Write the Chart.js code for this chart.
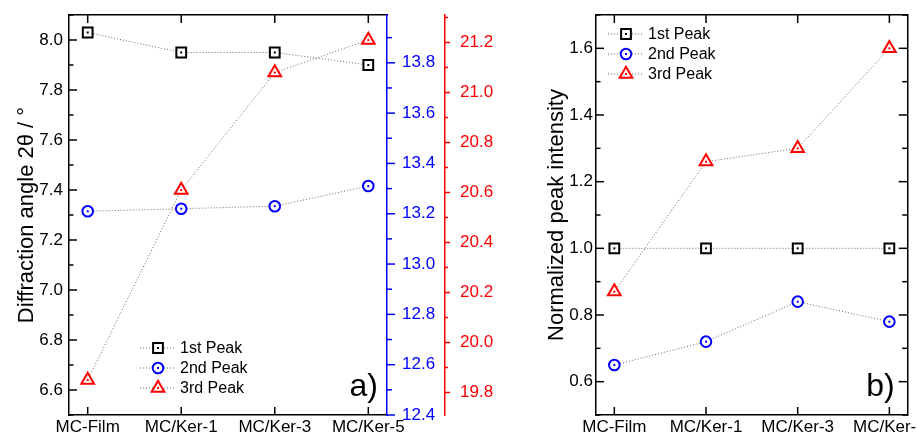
<!DOCTYPE html>
<html>
<head>
<meta charset="utf-8">
<script src="https://cdn.jsdelivr.net/npm/chart.js@4.4.1/dist/chart.umd.min.js"></script>
<style>
    body { margin: 0; background: #fff; width: 917px; height: 436px; position: relative; overflow: hidden; }
    canvas { position: absolute; top: 0; }
    #chartAngulo { left: 0; }
    #chartIntensidade { left: 500px; }
</style>
</head>
<body>
<canvas id="chartAngulo" width="500" height="436"></canvas>
<canvas id="chartIntensidade" width="417" height="436"></canvas>
<script>
// dados
const amostras = ['MC-Film', 'MC/Ker-1', 'MC/Ker-3', 'MC/Ker-5']
const posicoes = [0, 1, 2, 3]
const nomesPicos = ['1st Peak', '2nd Peak', '3rd Peak']

const angulo1 = [8.03, 7.95, 7.95, 7.90]
const angulo2 = [13.21, 13.22, 13.23, 13.31]
const angulo3 = [19.85, 20.61, 21.08, 21.21]

const intensidade1 = [1.00, 1.00, 1.00, 1.00]
const intensidade2 = [0.65, 0.72, 0.84, 0.78]
const intensidade3 = [0.87, 1.26, 1.30, 1.60]

Chart.defaults.font.family = "'Liberation Sans', Arial, sans-serif"
Chart.defaults.color = '#000'

const pontos = valores => valores.map((v, i) => ({ x: posicoes[i], y: v }))
const ehMaior = v => Math.round(v * 10) % 2 === 0

function ticksCategoria(scale) {
    scale.ticks = posicoes.map(v => ({ value: v }))
}

function ticksDecimo(scale) {
    const lista = []
    for (let i = Math.ceil(scale.min * 10 - 1e-6); i <= Math.floor(scale.max * 10 + 1e-6); i++) {
        lista.push({ value: i / 10 })
    }
    scale.ticks = lista
}

function larguraFixa(w) {
    return scale => {
        scale.width = w
        scale.paddingTop = 0
        scale.paddingBottom = 0
    }
}

function alturaFixa(h) {
    return scale => {
        scale.height = h
        scale.paddingLeft = 0
        scale.paddingRight = 0
    }
}

function serie(nome, valores, cor, estilo, raio, eixo) {
    return {
        label: nome,
        data: pontos(valores),
        yAxisID: eixo,
        borderColor: '#6a6a6a',
        borderWidth: 1,
        borderDash: [1, 2],
        pointStyle: estilo,
        pointRadius: raio,
        pointHoverRadius: raio,
        pointBorderColor: cor,
        pointBackgroundColor: '#fff',
        pointBorderWidth: 2,
        tension: 0
    }
}

// marcas de escala desenhadas a partir das escalas do grafico
const marcas = {
    id: 'marcas',
    afterDraw(chart, args, opts) {
        const ctx = chart.ctx
        Object.keys(opts).forEach(id => {
            const scale = chart.scales[id]
            const m = opts[id]
            if (!scale || !m || !m.color) return
            ctx.save()
            ctx.strokeStyle = m.color
            ctx.lineWidth = 1.5
            scale.ticks.forEach(t => {
                const horizontal = scale.isHorizontal()
                const len = horizontal || ehMaior(t.value) ? m.major : m.minor
                const p = scale.getPixelForValue(t.value)
                ctx.beginPath()
                if (horizontal) {
                    const y0 = scale.position === 'top' ? scale.bottom : scale.top
                    const dir = scale.position === 'top' ? 1 : -1
                    ctx.moveTo(p, y0)
                    ctx.lineTo(p, y0 + dir * len)
                } else {
                    const x0 = scale.position === 'left' ? scale.right : scale.left
                    const dir = (scale.position === 'left') === (m.side === 'in') ? 1 : -1
                    ctx.moveTo(x0, p)
                    ctx.lineTo(x0 + dir * len, p)
                }
                ctx.stroke()
            })
            ctx.restore()
        })
    }
}

// ponto central dentro de cada marcador
const pontoCentro = {
    id: 'pontoCentro',
    afterDatasetsDraw(chart) {
        const ctx = chart.ctx
        chart.data.datasets.forEach((ds, i) => {
            ctx.fillStyle = ds.pointBorderColor
            chart.getDatasetMeta(i).data.forEach(pt => {
                ctx.fillRect(pt.x - 1, pt.y - 1, 2, 2)
            })
        })
    }
}

// legenda dentro da area do grafico, com linha pontilhada e marcador
const legendaDentro = {
    id: 'legendaDentro',
    afterDraw(chart, args, opts) {
        const ctx = chart.ctx
        const area = chart.chartArea
        const x = area.left + opts.dx
        const y0 = opts.fromBottom ? area.bottom - opts.dy : area.top + opts.dy
        ctx.save()
        chart.data.datasets.forEach((ds, i) => {
            const y = y0 + i * 20
            ctx.strokeStyle = ds.borderColor
            ctx.lineWidth = 1
            ctx.setLineDash([1, 2])
            ctx.beginPath()
            ctx.moveTo(x - 18, y)
            ctx.lineTo(x + 17, y)
            ctx.stroke()
            ctx.setLineDash([])
            ctx.strokeStyle = ds.pointBorderColor
            ctx.fillStyle = '#fff'
            ctx.lineWidth = ds.pointBorderWidth
            Chart.helpers.drawPoint(ctx, { pointStyle: ds.pointStyle, radius: ds.pointRadius, rotation: 0, borderWidth: ds.pointBorderWidth }, x, y)
            ctx.fillStyle = ds.pointBorderColor
            ctx.fillRect(x - 1, y - 1, 2, 2)
            ctx.fillStyle = '#000'
            ctx.font = "16px 'Liberation Sans', Arial, sans-serif"
            ctx.textBaseline = 'middle'
            ctx.textAlign = 'left'
            ctx.fillText(ds.label, x + 22, y + 1)
        })
        ctx.restore()
    }
}

// rotulo do painel, a) ou b)
const rotuloPainel = {
    id: 'rotuloPainel',
    afterDraw(chart, args, opts) {
        const ctx = chart.ctx
        const area = chart.chartArea
        ctx.save()
        ctx.fillStyle = '#000'
        ctx.font = "32px 'Liberation Sans', Arial, sans-serif"
        ctx.textAlign = 'right'
        ctx.textBaseline = 'alphabetic'
        ctx.fillText(opts.text, area.right - opts.dx, area.bottom - opts.dy)
        ctx.restore()
    }
}

const fonteTick = { size: 17 }

function eixoX(posicao) {
    return {
        type: 'linear',
        position: posicao,
        min: -0.2,
        max: 3.2,
        afterBuildTicks: ticksCategoria,
        afterFit: alturaFixa(posicao === 'top' ? 15 : 21),
        grid: { display: false, drawTicks: false },
        border: { display: true, color: '#000', width: 1.5 },
        ticks: {
            display: posicao === 'bottom',
            autoSkip: false,
            maxRotation: 0,
            padding: 2,
            font: fonteTick,
            color: '#000',
            callback: v => amostras[v]
        }
    }
}

function eixoY(posicao, min, max, cor, largura, padding, peso, titulo) {
    return {
        type: 'linear',
        position: posicao,
        min: min,
        max: max,
        weight: peso,
        afterBuildTicks: ticksDecimo,
        afterFit: larguraFixa(largura),
        grid: { display: false, drawTicks: false },
        border: { display: true, color: cor, width: 1.5 },
        title: titulo || { display: false },
        ticks: {
            display: padding !== null,
            autoSkip: false,
            padding: padding || 0,
            font: fonteTick,
            color: cor,
            callback: v => ehMaior(v) ? v.toFixed(1) : ''
        }
    }
}

const chartAngulo = new Chart(document.getElementById('chartAngulo'), {
    type: 'line',
    data: {
        datasets: [
            serie(nomesPicos[0], angulo1, '#000000', 'rect', 6.9, 'y'),
            serie(nomesPicos[1], angulo2, '#0000ff', 'circle', 5.3, 'yAzul'),
            serie(nomesPicos[2], angulo3, '#ff0000', 'triangle', 7.3, 'yVermelho')
        ]
    },
    options: {
        responsive: false,
        animation: false,
        layout: { padding: 0 },
        scales: {
            x: eixoX('bottom'),
            xTopo: eixoX('top'),
            y: eixoY('left', 6.5, 8.1, '#000', 69, 6, 0, {
                display: true,
                text: 'Diffraction angle 2\u03b8 / \u00b0',
                font: { size: 22 },
                color: '#000',
                padding: { top: 14, bottom: 0 }
            }),
            yAzul: eixoY('right', 12.4, 13.99, '#0000ff', 58, 15, 1),
            yVermelho: eixoY('right', 19.71, 21.31, '#ff0000', 55, 15, 2)
        },
        plugins: {
            legend: { display: false },
            tooltip: { enabled: false },
            marcas: {
                x: { color: '#000', major: 8 },
                xTopo: { color: '#000', major: 8 },
                y: { color: '#000', side: 'in', major: 8, minor: 4.5 },
                yAzul: { color: '#0000ff', side: 'out', major: 8, minor: 5 },
                yVermelho: { color: '#ff0000', side: 'out', major: 5, minor: 3 }
            },
            legendaDentro: { dx: 89, dy: 67, fromBottom: true },
            rotuloPainel: { text: 'a)', dx: 9, dy: 19 }
        }
    },
    plugins: [marcas, pontoCentro, legendaDentro, rotuloPainel]
})

const chartIntensidade = new Chart(document.getElementById('chartIntensidade'), {
    type: 'line',
    data: {
        datasets: [
            serie(nomesPicos[0], intensidade1, '#000000', 'rect', 6.9, 'y'),
            serie(nomesPicos[1], intensidade2, '#0000ff', 'circle', 5.3, 'y'),
            serie(nomesPicos[2], intensidade3, '#ff0000', 'triangle', 7.3, 'y')
        ]
    },
    options: {
        responsive: false,
        animation: false,
        layout: { padding: 0 },
        scales: {
            x: eixoX('bottom'),
            xTopo: eixoX('top'),
            y: eixoY('left', 0.5, 1.7, '#000', 96, 3, 0, {
                display: true,
                text: 'Normalized peak intensity',
                font: { size: 22 },
                color: '#000',
                padding: { top: 44, bottom: 0 }
            }),
            yDireita: eixoY('right', 0.5, 1.7, '#000', 3, null, 1)
        },
        plugins: {
            legend: { display: false },
            tooltip: { enabled: false },
            marcas: {
                x: { color: '#000', major: 8 },
                xTopo: { color: '#000', major: 8 },
                y: { color: '#000', side: 'in', major: 8, minor: 4.5 },
                yDireita: { color: '#000', side: 'in', major: 9, minor: 5.5 }
            },
            legendaDentro: { dx: 30, dy: 19 },
            rotuloPainel: { text: 'b)', dx: 13, dy: 19 }
        }
    },
    plugins: [marcas, pontoCentro, legendaDentro, rotuloPainel]
})
</script>
</body>
</html>
